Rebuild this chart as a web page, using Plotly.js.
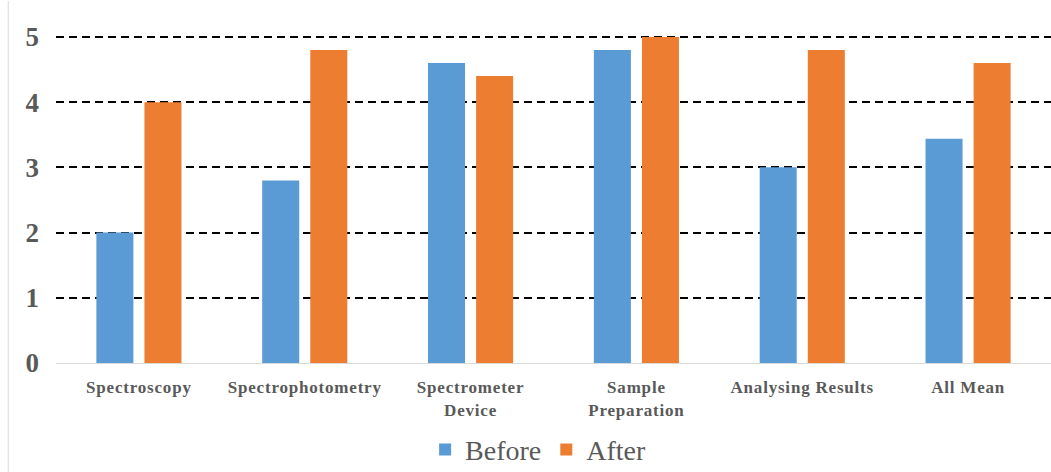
<!DOCTYPE html>
<html><head><meta charset="utf-8">
<script src="https://cdn.plot.ly/plotly-3.0.1.min.js"></script>
<style>html,body{margin:0;padding:0;background:#fff;}#chart{width:1051px;height:472px;}
.xtick text{letter-spacing:0.8px;}</style>
</head><body><div id="chart"></div>
<script>
const categories = ["Spectroscopy", "Spectrophotometry", "Spectrometer<br>Device", "Sample<br>Preparation", "Analysing Results", "All Mean"];
const beforeValues = [2.0, 2.8, 4.6, 4.8, 3.0, 3.44];
const afterValues = [4.0, 4.8, 4.4, 5.0, 4.8, 4.6];
const yTicks = [0, 1, 2, 3, 4, 5];

const traces = [
  {type: 'bar', name: 'Before', x: categories, y: beforeValues, marker: {color: '#5B9BD5'}, hoverinfo: 'none'},
  {type: 'bar', name: 'After', x: categories, y: afterValues, marker: {color: '#ED7D31'}, hoverinfo: 'none'}
];
const layout = {
  width: 1051, height: 472,
  margin: {l: 56, r: 0, t: 34, b: 109, autoexpand: false},
  paper_bgcolor: '#fff', plot_bgcolor: '#fff',
  barmode: 'group', bargap: 0.42, bargroupgap: 0.23,
  showlegend: true,
  legend: {orientation: 'h', x: 0.512, xref: 'container', xanchor: 'center', y: 0.047, yref: 'container', yanchor: 'middle',
    font: {family: 'Liberation Serif, Times New Roman, serif', size: 28, color: '#595959'},
    itemwidth: 30, traceorder: 'normal'},
  xaxis: {type: 'category', showgrid: false, showline: true, linecolor: '#d9d9d9', linewidth: 1,
    ticks: '', ticklabelstandoff: 9,
    tickfont: {family: 'Liberation Serif, Times New Roman, serif', size: 17, color: '#595959', weight: 'bold'},
    zeroline: false},
  yaxis: {range: [0, 5.045], tickvals: yTicks, ticktext: yTicks.map(String), showgrid: true,
    gridcolor: '#000', gridwidth: 2, griddash: '8px,5px', zeroline: false, showline: false, ticks: '',
    ticklabelstandoff: 16,
    tickfont: {family: 'Liberation Serif, Times New Roman, serif', size: 27, color: '#595959', weight: 'bold'}},
  shapes: [{type: 'line', xref: 'paper', yref: 'paper', x0: -0.048, x1: -0.048, y0: -0.35, y1: 1.1,
    line: {color: '#d9d9d9', width: 1}}]
};
Plotly.newPlot('chart', traces, layout, {displayModeBar: false, staticPlot: true});
</script></body></html>
